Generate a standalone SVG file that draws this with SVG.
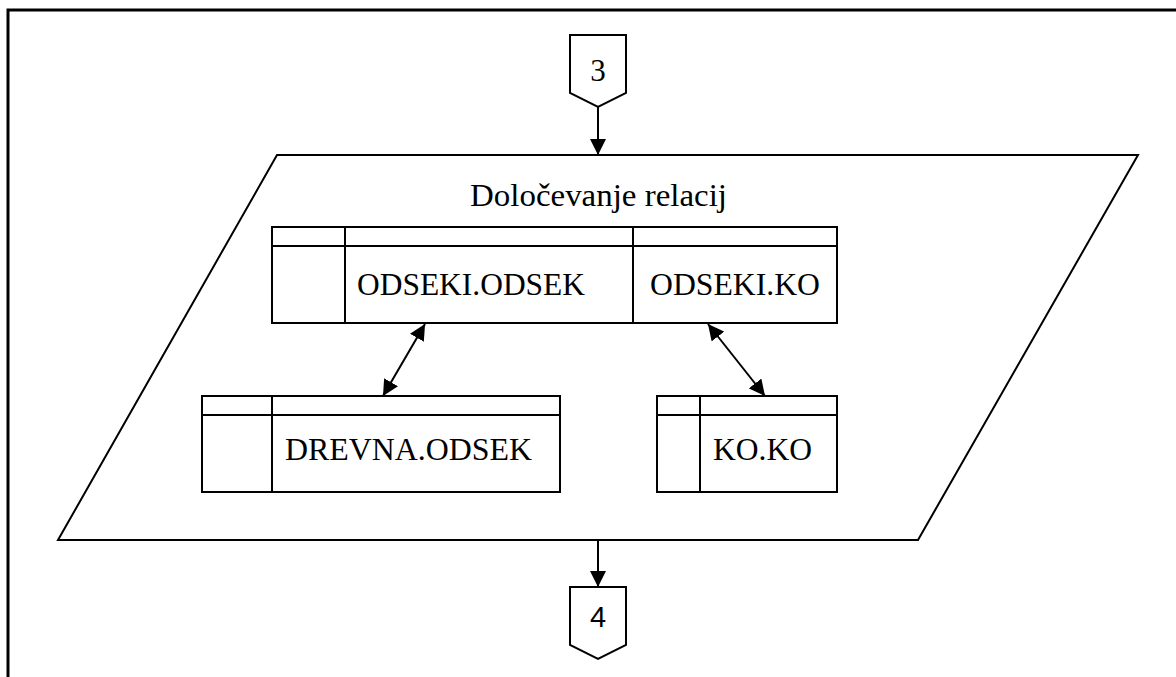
<svg xmlns="http://www.w3.org/2000/svg" width="1176" height="677" viewBox="0 0 1176 677">
  <style>
    .ln { fill: none; stroke: #000; stroke-width: 2; }
    .box { fill: #fff; stroke: #000; stroke-width: 2; }
  </style>
  <defs>
    <marker id="ahb" viewBox="0 0 10 10" refX="10" refY="5" markerWidth="8" markerHeight="8" orient="auto-start-reverse">
      <path d="M0,0 L10,5 L0,10 z" fill="#000"/>
    </marker>
  </defs>

  <rect width="1176" height="677" fill="#fff"/>

  <!-- page frame (top and left edges only) -->
  <g id="frame">
    <path d="M8,677 V10 H1176" fill="none" stroke="#000" stroke-width="3"/>
  </g>

  <g font-family="'Liberation Serif', 'DejaVu Serif', 'Noto Serif', serif" font-size="31" fill="#000">
    <!-- off-page connector 3 -->
    <g id="conn3">
      <path class="box" d="M570,35 H626 V93 L598,107 L570,93 Z"/>
      <text x="598" y="81" text-anchor="middle">3</text>
    </g>

    <!-- process parallelogram -->
    <g id="process">
      <path class="box" d="M277,155 H1138 L918,540 H58 Z"/>
      <text x="470" y="206" textLength="257" lengthAdjust="spacingAndGlyphs">Določevanje relacij</text>
    </g>

    <!-- table ODSEKI -->
    <g id="odseki">
      <rect class="box" x="272" y="227" width="361" height="96"/>
      <line class="ln" x1="272" y1="246" x2="633" y2="246"/>
      <line class="ln" x1="345" y1="227" x2="345" y2="323"/>
      <rect class="box" x="633" y="227" width="204" height="96"/>
      <line class="ln" x1="633" y1="246" x2="837" y2="246"/>
      <text x="357" y="295" textLength="228" lengthAdjust="spacingAndGlyphs">ODSEKI.ODSEK</text>
      <text x="650" y="295" textLength="170" lengthAdjust="spacingAndGlyphs">ODSEKI.KO</text>
    </g>

    <!-- table DREVNA -->
    <g id="drevna">
      <rect class="box" x="202" y="396" width="358" height="96"/>
      <line class="ln" x1="202" y1="415" x2="560" y2="415"/>
      <line class="ln" x1="272" y1="396" x2="272" y2="492"/>
      <text x="285" y="460" textLength="247" lengthAdjust="spacingAndGlyphs">DREVNA.ODSEK</text>
    </g>

    <!-- table KO -->
    <g id="ko">
      <rect class="box" x="657" y="396" width="180" height="96"/>
      <line class="ln" x1="657" y1="415" x2="837" y2="415"/>
      <line class="ln" x1="700" y1="396" x2="700" y2="492"/>
      <text x="713" y="460" textLength="99" lengthAdjust="spacingAndGlyphs">KO.KO</text>
    </g>
  </g>

  <!-- off-page connector 4 -->
  <g id="conn4">
    <path class="box" d="M570,587 H626 V645 L598,659 L570,645 Z"/>
    <text x="598" y="627" text-anchor="middle" font-family="'Liberation Sans', Arial, sans-serif" font-size="29" fill="#000">4</text>
  </g>

  <!-- connectors -->
  <g id="connectors" fill="none" stroke="#000" stroke-width="2">
    <line x1="598" y1="107" x2="598" y2="155" marker-end="url(#ahb)"/>
    <line x1="598" y1="540" x2="598" y2="587" marker-end="url(#ahb)"/>
    <line x1="425" y1="324" x2="383" y2="396" marker-start="url(#ahb)" marker-end="url(#ahb)"/>
    <line x1="708" y1="324" x2="765" y2="396" marker-start="url(#ahb)" marker-end="url(#ahb)"/>
  </g>
</svg>
